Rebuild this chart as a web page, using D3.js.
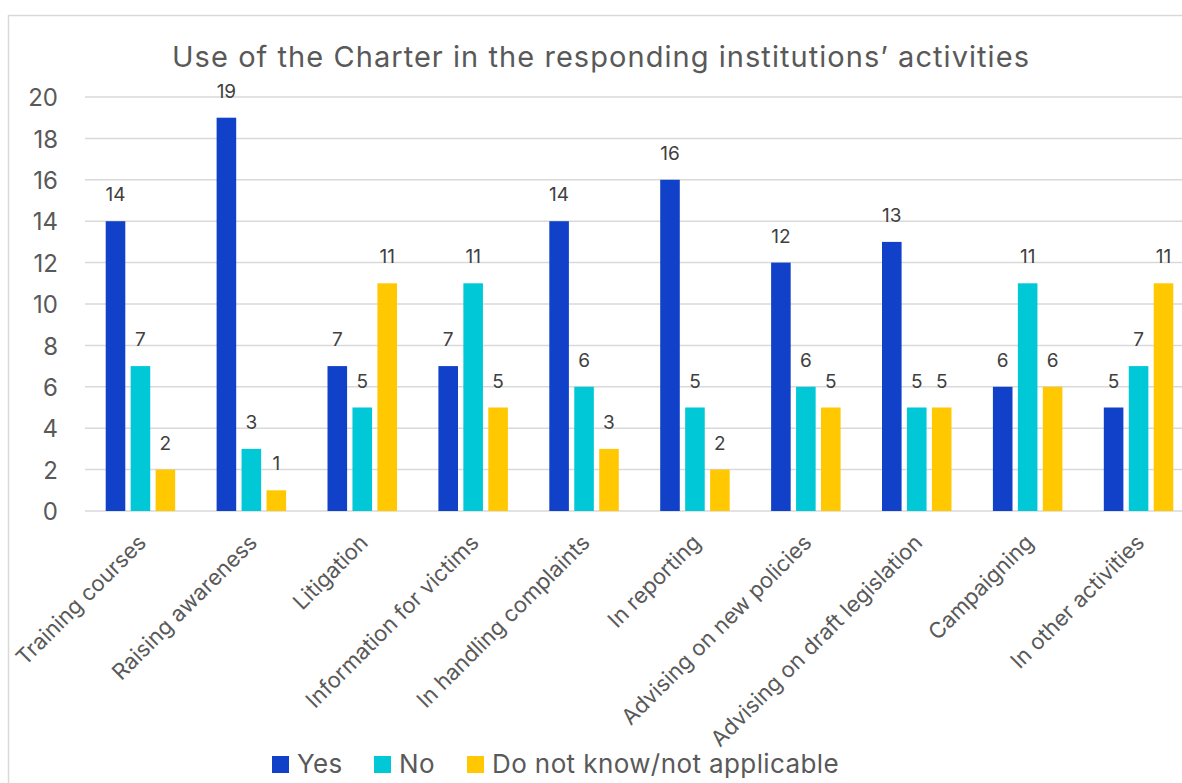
<!DOCTYPE html>
<html>
<head>
<meta charset="utf-8">
<script src="https://cdn.jsdelivr.net/npm/d3@7/dist/d3.min.js"></script>
<style>
  html, body { margin: 0; padding: 0; background: #fff; }
  svg { display: block; }
  text { font-family: Inter, "Noto Sans", "Liberation Sans", sans-serif; }
</style>
</head>
<body>
<div id="chart"></div>
<script>
// Activities surveyed
const categories = [
  "Training courses", "Raising awareness", "Litigation", "Information for victims",
  "In handling complaints", "In reporting", "Advising on new policies",
  "Advising on draft legislation", "Campaigning", "In other activities"
];
const seriesNames = ["Yes", "No", "Do not know/not applicable"];
const yesValues = [14, 19, 7, 7, 14, 16, 12, 13, 6, 5];
const noValues = [7, 3, 5, 11, 6, 5, 6, 5, 11, 7];
const dnkValues = [2, 1, 11, 5, 3, 2, 5, 5, 6, 11];
const yTicks = [0, 2, 4, 6, 8, 10, 12, 14, 16, 18, 20];
const title = "Use of the Charter in the responding institutions\u2019 activities";

const seriesValues = [yesValues, noValues, dnkValues];
const colors = ["#1141C9", "#00C8D7", "#FFC800"];

const W = 1182, H = 783;
const svg = d3.select("#chart").append("svg").attr("width", W).attr("height", H);

// chart area frame
svg.append("rect")
  .attr("x", 8.5).attr("y", 15.5).attr("width", W + 20).attr("height", H + 20)
  .attr("fill", "#fff").attr("stroke", "#d9d9d9").attr("stroke-width", 1.5);

const plot = { left: 85, right: 1194, top: 97, bottom: 511 };

const x0 = d3.scaleBand().domain(categories).range([plot.left, plot.right]).padding(0);
const x1 = d3.scaleBand().domain(seriesNames).range([0, x0.bandwidth()])
  .paddingInner(0.215).paddingOuter(0.83);
const y = d3.scaleLinear().domain([0, 20]).range([plot.bottom, plot.top]);

// title
svg.append("text")
  .attr("x", 601).attr("y", 67)
  .attr("text-anchor", "middle")
  .attr("font-size", 29).attr("letter-spacing", 1.05).attr("fill", "#595959")
  .text(title);

// gridlines
svg.append("g").selectAll("line").data(yTicks).join("line")
  .attr("x1", plot.left).attr("x2", W)
  .attr("y1", d => y(d)).attr("y2", d => y(d))
  .attr("stroke", "#d9d9d9").attr("stroke-width", 1.5);

// y axis labels
const yAxis = d3.axisLeft(y).tickValues(yTicks).tickSize(0).tickPadding(0);
const yg = svg.append("g").attr("transform", `translate(${plot.left - 27},0)`).call(yAxis);
yg.select(".domain").remove();
yg.selectAll("text")
  .attr("font-size", 24).attr("fill", "#595959")
  .attr("font-family", "Inter, 'Noto Sans', sans-serif")
  .attr("dy", "0.36em");

// bars
const groups = svg.append("g").selectAll("g").data(categories).join("g")
  .attr("transform", d => `translate(${x0(d)},0)`);

groups.each(function(cat, i) {
  const g = d3.select(this);
  const rows = seriesNames.map((s, k) => ({ s, k, v: seriesValues[k][i] }));
  g.selectAll("rect").data(rows).join("rect")
    .attr("x", d => x1(d.s))
    .attr("y", d => y(d.v))
    .attr("width", x1.bandwidth())
    .attr("height", d => y(0) - y(d.v))
    .attr("fill", d => colors[d.k]);
  g.selectAll("text").data(rows).join("text")
    .attr("x", d => x1(d.s) + x1.bandwidth() / 2)
    .attr("y", d => y(d.v) - 20)
    .attr("text-anchor", "middle")
    .attr("font-size", 19).attr("fill", "#404040")
    .text(d => d.v);
});

// category labels, rotated
const xAxis = d3.axisBottom(x0).tickSize(0).tickPadding(0);
const xg = svg.append("g").attr("transform", `translate(0,${plot.bottom})`).call(xAxis);
xg.select(".domain").remove();
xg.selectAll(".tick text")
  .attr("font-size", 22).attr("fill", "#595959")
  .attr("font-family", "Inter, 'Noto Sans', sans-serif")
  .attr("text-anchor", "end")
  .attr("dy", "0.71em")
  .attr("transform", "translate(-4,22) rotate(-45)");

// legend
const legendX = [272, 374, 467];
const legend = svg.append("g").selectAll("g").data(seriesNames).join("g")
  .attr("transform", (d, i) => `translate(${legendX[i]},756)`);
legend.append("rect").attr("width", 17).attr("height", 17).attr("fill", (d, i) => colors[i]);
legend.append("text")
  .attr("x", 25).attr("y", 17)
  .attr("font-size", 26).attr("letter-spacing", 0.4).attr("fill", "#595959")
  .text(d => d);
</script>
</body>
</html>
